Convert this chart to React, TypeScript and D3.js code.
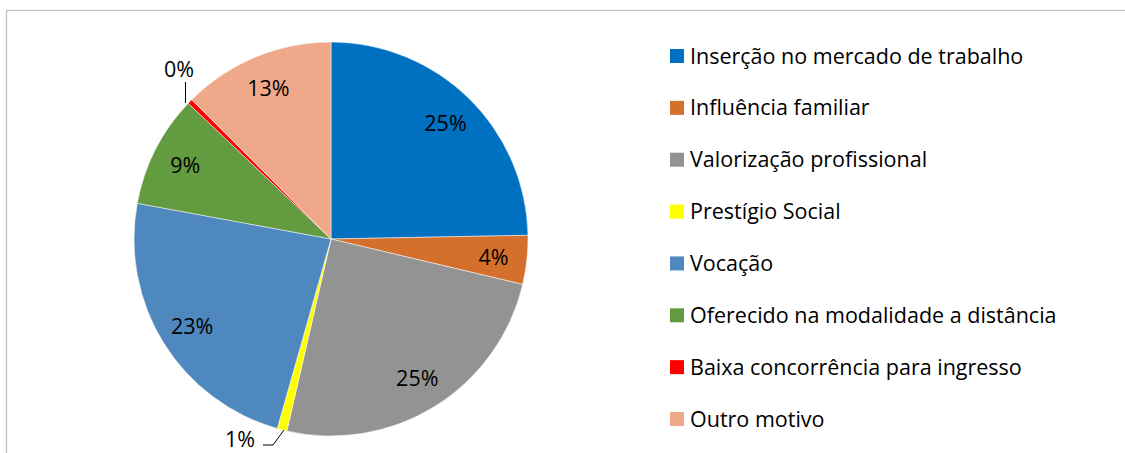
import React from "react";
import * as d3 from "d3";

const categories = [
  "Inserção no mercado de trabalho",
  "Influência familiar",
  "Valorização profissional",
  "Prestígio Social",
  "Vocação",
  "Oferecido na modalidade a distância",
  "Baixa concorrência para ingresso",
  "Outro motivo",
];
const values = [24.7, 4.0, 24.9, 0.8, 23.5, 9.2, 0.4, 12.5];
const percentLabels = ["25%", "4%", "25%", "1%", "23%", "9%", "0%", "13%"];
const colors = [
  "#0070C0",
  "#D4702C",
  "#939393",
  "#FFFF00",
  "#4F88BE",
  "#629B40",
  "#FF0000",
  "#F0A88A",
];

const W = 1125;
const H = 453;
const cx = 331;
const cy = 239;
const r = 197;
const font = "'Open Sans', 'Noto Sans', sans-serif";
const fs = 21.5;

export default function App() {
  const pie = d3
    .pie<number>()
    .sort(null)
    .value((d) => d);
  const arcs = pie(values);
  const arc = d3.arc<d3.PieArcDatum<number>>().innerRadius(0).outerRadius(r);
  const labelArc = d3
    .arc<d3.PieArcDatum<number>>()
    .innerRadius(r * 0.83)
    .outerRadius(r * 0.83);

  const legendY = d3
    .scalePoint<string>()
    .domain(categories)
    .range([56, 419]);

  // small slices get their label outside with a leader line
  const outside: Record<number, { tx: number; ty: number; line: [number, number][] }> = {
    3: { tx: 240, ty: 438, line: [[263, 445], [273, 445], [284, 430]] },
    6: { tx: 179, ty: 68, line: [[185.5, 82], [185.5, 103]] },
  };

  return (
    <svg width={W} height={H} style={{ position: "absolute", left: 0, top: 0 }}>
      <rect x={0} y={0} width={W} height={H} fill="#fff" />
      <rect x={6.5} y={10.5} width={W + 20} height={H + 20} fill="#fff" stroke="#BFBFBF" strokeWidth={1.3} />
      <g transform={`translate(${cx},${cy})`}>
        {arcs.map((a, i) => (
          <path key={i} d={arc(a) || ""} fill={colors[i]} stroke="#fff" strokeWidth={0.5} />
        ))}
        {arcs.map((a, i) => {
          if (outside[i]) return null;
          const [x, y] = labelArc.centroid(a);
          return (
            <text
              key={i}
              x={x}
              y={y}
              textAnchor="middle"
              dominantBaseline="central"
              fontFamily={font}
              fontSize={fs}
              fill="#000"
            >
              {percentLabels[i]}
            </text>
          );
        })}
      </g>
      {Object.entries(outside).map(([k, o]) => (
        <g key={k}>
          <path d={d3.line()(o.line) || ""} fill="none" stroke="#000" strokeWidth={1} />
          <text
            x={o.tx}
            y={o.ty}
            textAnchor="middle"
            dominantBaseline="central"
            fontFamily={font}
            fontSize={fs}
            fill="#000"
          >
            {percentLabels[+k]}
          </text>
        </g>
      ))}
      {categories.map((c, i) => (
        <g key={c} transform={`translate(670,${legendY(c)})`}>
          <rect x={0} y={-7} width={14} height={14} fill={colors[i]} />
          <text x={20} y={-1} dominantBaseline="central" fontFamily={font} fontSize={fs} fill="#000">
            {c}
          </text>
        </g>
      ))}
    </svg>
  );
}
